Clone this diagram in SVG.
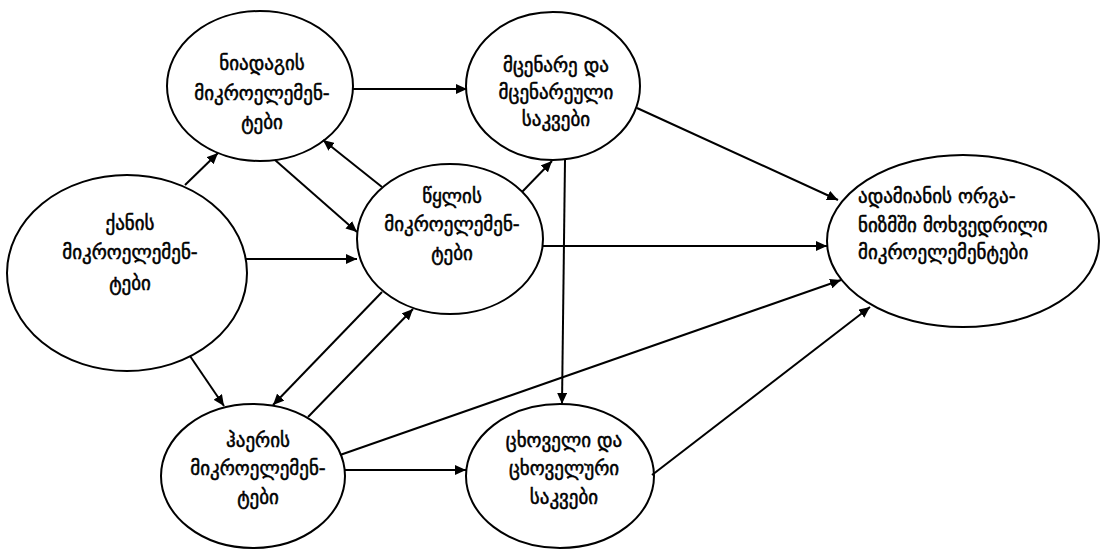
<svg xmlns="http://www.w3.org/2000/svg" width="1100" height="555" viewBox="0 0 1100 555">
<style>
.node{fill:#fff;stroke:#000;stroke-width:2}
.t{font-family:"DejaVu Sans","Noto Sans",sans-serif;font-size:19px;fill:#000;stroke:#000;stroke-width:0.5;text-anchor:middle}
.tl{text-anchor:start}
.c line{stroke:#000;stroke-width:2;marker-end:url(#ah)}
</style>
<defs>
<marker id="ah" markerUnits="userSpaceOnUse" markerWidth="12" markerHeight="10" refX="11" refY="5" orient="auto">
<path d="M0,0 L11,5 L0,10 z" fill="#000"/>
</marker>
</defs>
<rect width="1100" height="555" fill="#fff"/>
<g id="n1"><ellipse class="node" cx="260" cy="86" rx="93" ry="75"/>
<text class="t" x="262" y="70">ნიადაგის</text><text class="t" x="262" y="100">მიკროელემენ-</text><text class="t" x="262" y="129">ტები</text></g>
<g id="n2"><ellipse class="node" cx="553" cy="86" rx="87" ry="74"/>
<text class="t" x="556" y="72">მცენარე  და</text><text class="t" x="556" y="99">მცენარეული</text><text class="t" x="556" y="126">საკვები</text></g>
<g id="n3"><ellipse class="node" cx="127" cy="273" rx="120" ry="98"/>
<text class="t" x="130" y="230">ქანის</text><text class="t" x="130" y="259">მიკროელემენ-</text><text class="t" x="130" y="290">ტები</text></g>
<g id="n4"><ellipse class="node" cx="450" cy="239" rx="93" ry="75"/>
<text class="t" x="452" y="203">წყლის</text><text class="t" x="452" y="231">მიკროელემენ-</text><text class="t" x="452" y="260">ტები</text></g>
<g id="n5"><ellipse class="node" cx="963" cy="241" rx="136" ry="86"/>
<text class="t tl" x="858" y="203">ადამიანის  ორგა-</text><text class="t tl" x="858" y="232">ნიზმში  მოხვედრილი</text><text class="t tl" x="858" y="259">მიკროელემენტები</text></g>
<g id="n6"><ellipse class="node" cx="253" cy="476" rx="92" ry="72"/>
<text class="t" x="258" y="447">ჰაერის</text><text class="t" x="258" y="475">მიკროელემენ-</text><text class="t" x="258" y="504">ტები</text></g>
<g id="n7"><ellipse class="node" cx="560" cy="476" rx="94" ry="72"/>
<text class="t" x="564" y="447">ცხოველი  და</text><text class="t" x="564" y="475">ცხოველური</text><text class="t" x="564" y="504">საკვები</text></g>
<g id="connectors" class="c">
<line x1="185" y1="185" x2="218" y2="153"/>
<line x1="275" y1="160" x2="357" y2="232"/>
<line x1="382" y1="187" x2="323" y2="140"/>
<line x1="246" y1="259" x2="357" y2="259"/>
<line x1="353" y1="89" x2="467" y2="89"/>
<line x1="522" y1="192" x2="552" y2="161"/>
<line x1="565" y1="160" x2="562" y2="404"/>
<line x1="637" y1="108" x2="838" y2="200"/>
<line x1="543" y1="246" x2="827" y2="246"/>
<line x1="340" y1="455" x2="841" y2="280"/>
<line x1="345" y1="470" x2="466" y2="470"/>
<line x1="652" y1="475" x2="870" y2="307"/>
<line x1="190" y1="356" x2="224" y2="406"/>
<line x1="382" y1="292" x2="273" y2="405"/>
<line x1="308" y1="417" x2="413" y2="309"/>
</g>
</svg>
